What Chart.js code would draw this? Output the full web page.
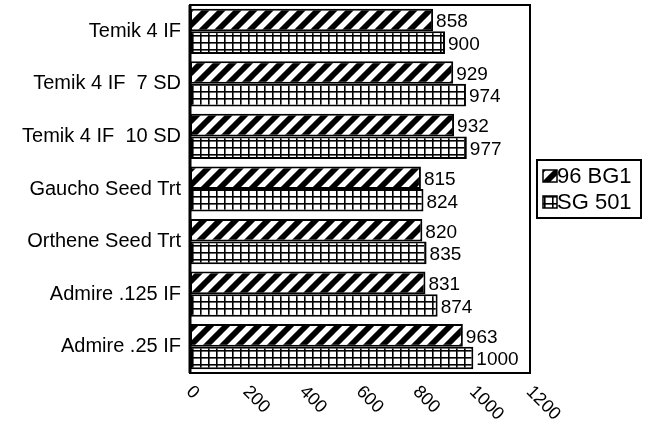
<!DOCTYPE html>
<html>
<head>
<meta charset="utf-8">
<script src="https://cdn.jsdelivr.net/npm/chart.js@4.4.0/dist/chart.umd.min.js"></script>
<style>
  html, body { margin: 0; padding: 0; background: #fff; }
  #wrap { width: 655px; height: 428px; }
</style>
</head>
<body>
<div id="wrap"><canvas id="chart" width="655" height="428"></canvas></div>
<script>
// chart values
const categories = ['Temik 4 IF', 'Temik 4 IF  7 SD', 'Temik 4 IF  10 SD', 'Gaucho Seed Trt',
  'Orthene Seed Trt', 'Admire .125 IF', 'Admire .25 IF'];
const seriesNames = ['96 BG1', 'SG 501'];
const bg1Values = [858, 929, 932, 815, 820, 831, 963];
const sg501Values = [900, 974, 977, 824, 835, 874, 1000];
const xTicks = [0, 200, 400, 600, 800, 1000, 1200];

const FONT = "'Liberation Sans', Arial, sans-serif";

// black with white diagonal strokes
function makeStripePattern() {
  const c = document.createElement('canvas');
  c.width = 16; c.height = 16;
  const g = c.getContext('2d');
  g.fillStyle = '#000';
  g.fillRect(0, 0, 16, 16);
  g.strokeStyle = '#fff';
  g.lineWidth = 5.5;
  g.beginPath();
  g.moveTo(-2, 18); g.lineTo(18, -2);
  g.moveTo(-10, 10); g.lineTo(10, -10);
  g.moveTo(6, 26); g.lineTo(26, 6);
  g.stroke();
  return g.createPattern(c, 'repeat');
}

// white with black grid
function makeGridPattern() {
  const c = document.createElement('canvas');
  c.width = 8; c.height = 7;
  const g = c.getContext('2d');
  g.fillStyle = '#fff';
  g.fillRect(0, 0, 8, 7);
  g.fillStyle = '#000';
  g.fillRect(0, 0, 8, 1.6);
  g.fillRect(0, 0, 1.6, 7);
  return g.createPattern(c, 'repeat');
}

const stripe = makeStripePattern();
const grid = makeGridPattern();

// frame round the plot, rotated x labels, value labels and boxed legend
const extrasPlugin = {
  id: 'extras',
  afterDatasetsDraw(chart) {
    const ctx = chart.ctx;
    ctx.save();
    ctx.font = '19px ' + FONT;
    ctx.fillStyle = '#000';
    ctx.textAlign = 'left';
    ctx.textBaseline = 'middle';
    chart.data.datasets.forEach((ds, i) => {
      chart.getDatasetMeta(i).data.forEach((bar, j) => {
        ctx.fillText(String(ds.data[j]), bar.x + 3, bar.y + 2);
      });
    });
    ctx.restore();
  },
  afterDraw(chart) {
    const ctx = chart.ctx;
    const a = chart.chartArea;
    ctx.save();
    ctx.strokeStyle = '#000';
    ctx.lineWidth = 2;
    ctx.strokeRect(a.left, a.top, a.right - a.left, a.bottom - a.top);
    ctx.lineWidth = 3;
    ctx.beginPath();
    ctx.moveTo(a.left, a.top);
    ctx.lineTo(a.left, a.bottom);
    ctx.stroke();

    // x tick labels, rotated down to the right
    const xs = chart.scales.x;
    ctx.font = '18px ' + FONT;
    ctx.fillStyle = '#000';
    ctx.textAlign = 'left';
    ctx.textBaseline = 'middle';
    xTicks.forEach(v => {
      const px = xs.getPixelForValue(v);
      ctx.save();
      ctx.translate(px - 1, a.bottom + 16);
      ctx.rotate(Math.PI / 4);
      ctx.fillText(String(v), 0, 0);
      ctx.restore();
    });

    // legend
    const lx = 537, ly = 160, lw = 104, lh = 58;
    ctx.lineWidth = 2;
    ctx.strokeRect(lx, ly, lw, lh);
    ctx.font = '22px ' + FONT;
    chart.data.datasets.forEach((ds, i) => {
      const cy = ly + 16 + i * 26;
      ctx.fillStyle = ds.backgroundColor;
      ctx.fillRect(lx + 6, cy - 6, 14, 12);
      ctx.lineWidth = 1.5;
      ctx.strokeRect(lx + 6, cy - 6, 14, 12);
      ctx.fillStyle = '#000';
      ctx.fillText(ds.label, lx + 20, cy + 1);
    });
    ctx.restore();
  }
};

new Chart(document.getElementById('chart'), {
  type: 'bar',
  data: {
    labels: categories,
    datasets: [{
      label: seriesNames[0],
      data: bg1Values,
      backgroundColor: stripe,
      borderColor: '#000',
      borderWidth: 2,
      borderSkipped: false
    }, {
      label: seriesNames[1],
      data: sg501Values,
      backgroundColor: grid,
      borderColor: '#000',
      borderWidth: 2,
      borderSkipped: false
    }]
  },
  options: {
    indexAxis: 'y',
    responsive: false,
    animation: false,
    layout: { padding: { top: 5, right: 125, left: 0, bottom: 0 } },
    datasets: {
      bar: { categoryPercentage: 0.86, barPercentage: 1.0 }
    },
    plugins: {
      legend: { display: false },
      tooltip: { enabled: false }
    },
    scales: {
      x: {
        min: 0,
        max: 1200,
        grid: { display: false, drawTicks: false },
        border: { display: false },
        ticks: { display: false, stepSize: 200 },
        afterFit(scale) {
          scale.height = 55;
          scale.paddingLeft = 0;
          scale.paddingRight = 0;
        }
      },
      y: {
        grid: { display: false, drawTicks: false },
        border: { display: false },
        ticks: {
          color: '#000',
          padding: 9,
          font: { size: 20, family: FONT }
        },
        afterFit(scale) {
          scale.width = 190;
          scale.paddingTop = 0;
          scale.paddingBottom = 0;
        }
      }
    }
  },
  plugins: [extrasPlugin]
});
</script>
</body>
</html>
